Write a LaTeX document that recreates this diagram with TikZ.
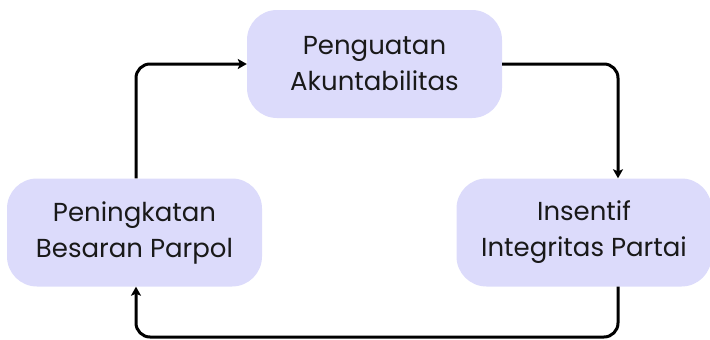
\documentclass[tikz,border=0pt]{standalone}
\usepackage{fontspec}
\setmainfont{Poppins}
\usetikzlibrary{arrows.meta}
\definecolor{boxfill}{HTML}{DCDBFB}
\tikzset{
  stagebox/.style={draw=none, fill=boxfill, rounded corners=30pt, align=center,
    minimum width=255pt, minimum height=108pt, inner sep=0pt,
    font=\fontsize{26}{36}\selectfont, text=black!90},
  flow/.style={line width=3pt, rounded corners=14pt, -{Stealth[length=9pt,width=10pt,inset=2pt]}}
}
\begin{document}
\begin{tikzpicture}[x=1pt,y=-1pt]
\useasboundingbox (0,0) rectangle (710,340);
\node[stagebox] (akun) at (374.5,64) {Penguatan\\Akuntabilitas};
\node[stagebox] (insen) at (584,232.5) {Insentif\\Integritas Partai};
\node[stagebox] (besar) at (134.5,232.5) {Peningkatan\\Besaran Parpol};
\coordinate (b1) at (618,337);
\coordinate (b2) at (136,337);
\draw[flow] (akun.east) -| (insen.north -| 618,0);
\draw[flow] (insen.south -| 618,0) -- (b1) -- (b2) -- (besar.south -| b2);
\draw[flow] (besar.north -| 136,0) |- (akun.west);
\end{tikzpicture}
\end{document}
